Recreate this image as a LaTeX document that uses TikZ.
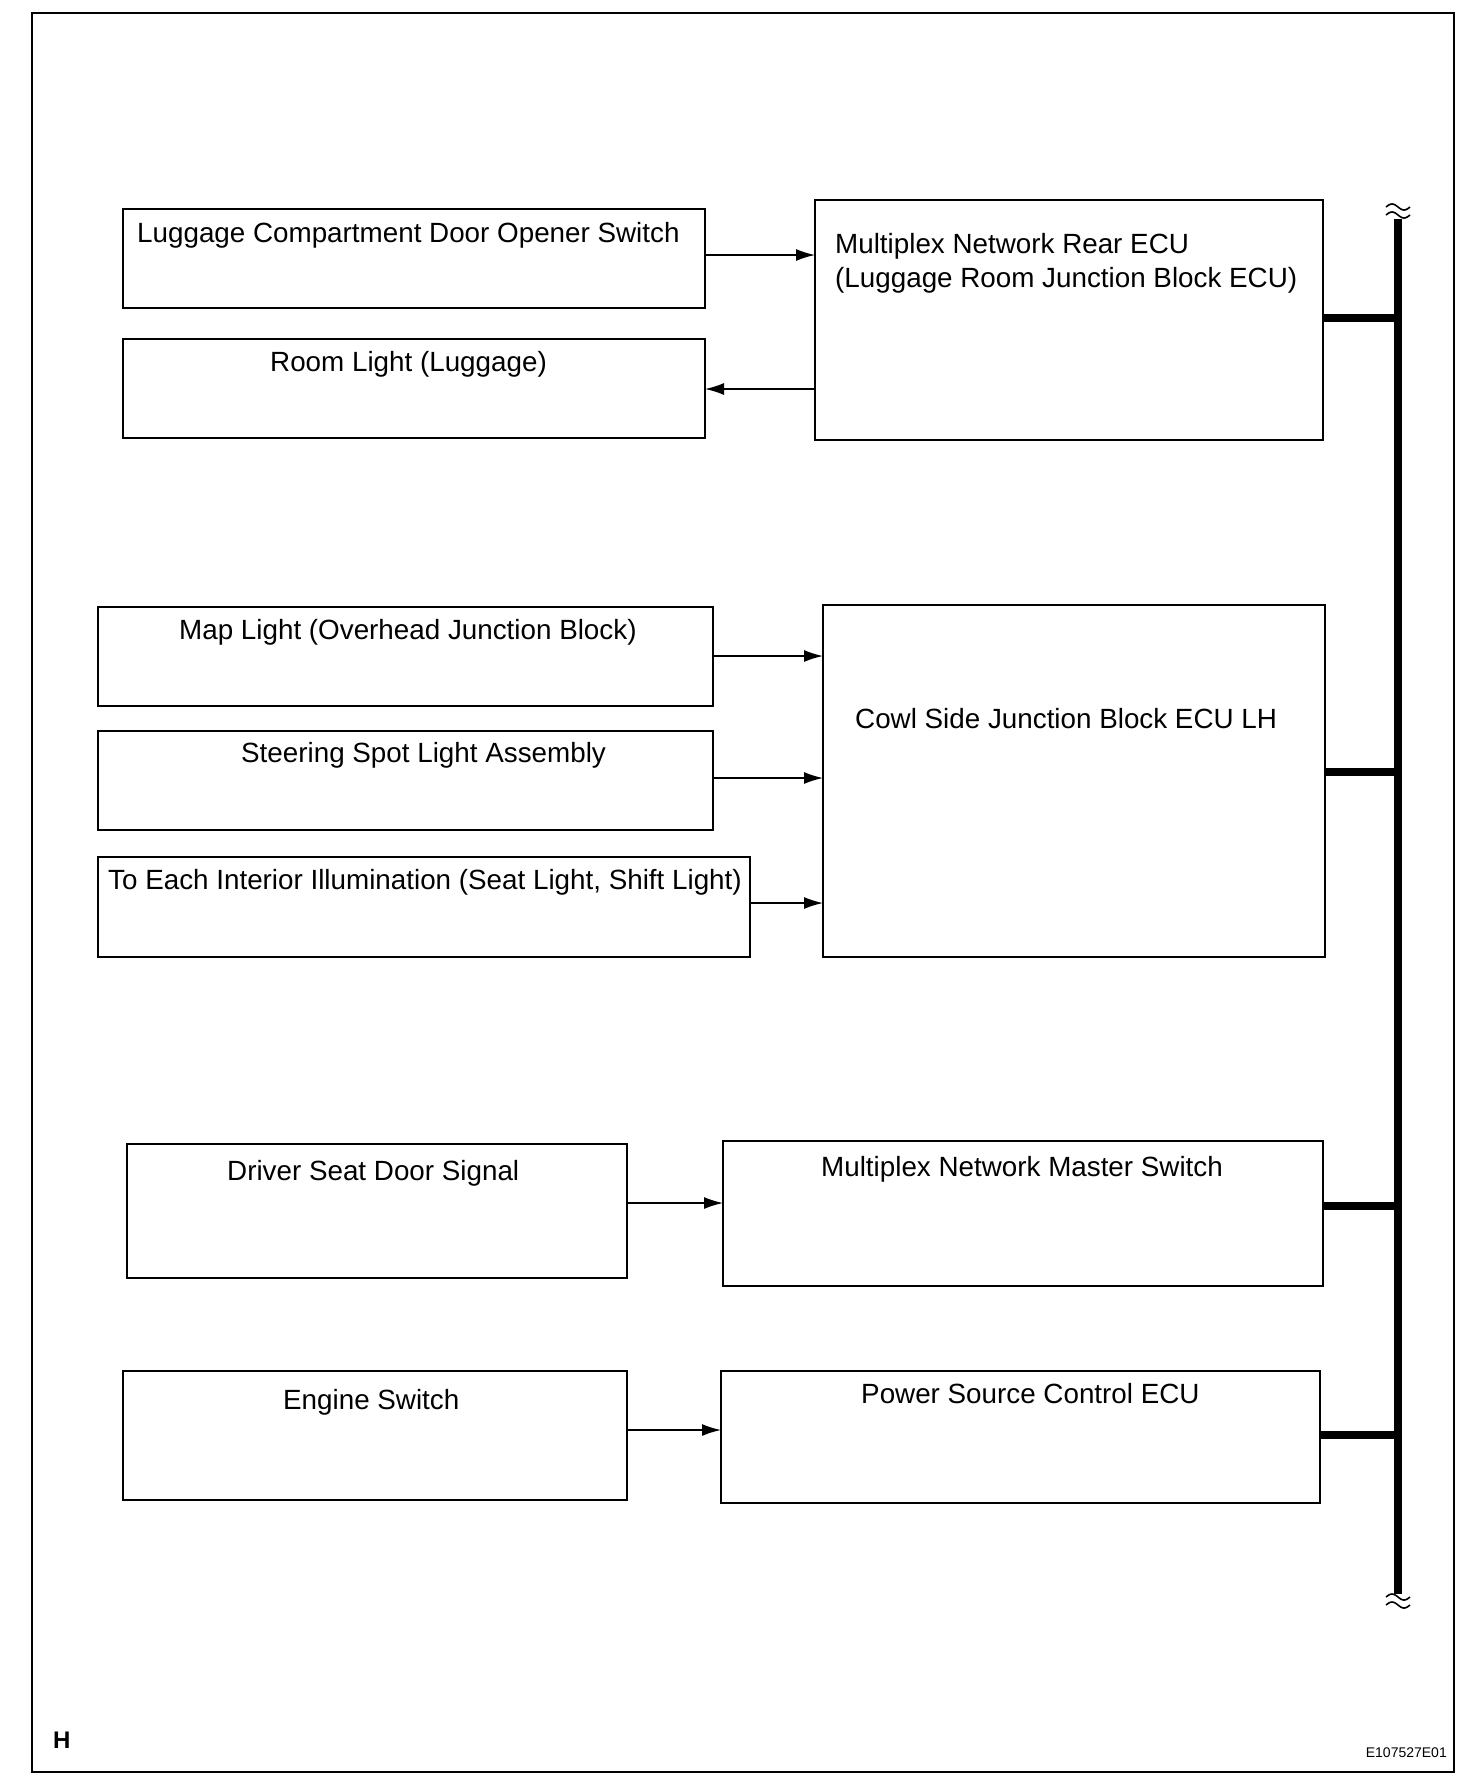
\documentclass[tikz,border=0pt]{standalone}
\usepackage{fontspec}
\setmainfont{Liberation Sans}
\usetikzlibrary{arrows.meta}
\tikzset{
  box/.style={draw, line width=2.3pt, inner sep=0pt, outer sep=0pt, anchor=north west},
  lbl/.style={font=\fontsize{27.8}{33}\selectfont, inner sep=0pt, anchor=base west},
  arr/.style={line width=1.4pt, -{Latex[length=19pt,width=12pt]}},
  busline/.style={line width=8pt},
  wave/.style={line width=1.6pt}
}
\begin{document}
\begin{tikzpicture}[x=1pt,y=-1pt]
\useasboundingbox (0,0) rectangle (1472,1788);
\draw[line width=2.2pt] (32,13) rectangle (1454,1772);

% boxes
\node[box, minimum width=582pt, minimum height=99pt] (b1) at (123,209) {};
\node[box, minimum width=582pt, minimum height=99pt] (b2) at (123,339) {};
\node[box, minimum width=508pt, minimum height=240pt] (rear) at (815,200) {};
\node[box, minimum width=615pt, minimum height=99pt] (map) at (98,607) {};
\node[box, minimum width=615pt, minimum height=99pt] (steer) at (98,731) {};
\node[box, minimum width=652pt, minimum height=100pt] (each) at (98,857) {};
\node[box, minimum width=502pt, minimum height=352pt] (cowl) at (823,605) {};
\node[box, minimum width=500pt, minimum height=134pt] (driver) at (127,1144) {};
\node[box, minimum width=600pt, minimum height=145pt] (master) at (723,1141) {};
\node[box, minimum width=504pt, minimum height=129pt] (engine) at (123,1371) {};
\node[box, minimum width=599pt, minimum height=132pt] (psc) at (721,1371) {};

% texts
\node[lbl] (t1) at (137,242) {Luggage Compartment Door Opener Switch};
\node[lbl] (t2) at (270,371) {Room Light (Luggage)};
\node[lbl] (t3a) at (835,253) {Multiplex Network Rear ECU};
\node[lbl] (t3b) at (835,287) {(Luggage Room Junction Block ECU)};
\node[lbl] (t4) at (179,639) {Map Light (Overhead Junction Block)};
\node[lbl] (t5) at (241,762) {Steering Spot Light Assembly};
\node[lbl] (t6) at (108,889) {To Each Interior Illumination (Seat Light, Shift Light)};
\node[lbl] (t7) at (855,728) {Cowl Side Junction Block ECU LH};
\node[lbl] (t8) at (227,1180) {Driver Seat Door Signal};
\node[lbl] (t9) at (821,1176) {Multiplex Network Master Switch};
\node[lbl] (t10) at (283,1409) {Engine Switch};
\node[lbl] (t11) at (861,1403) {Power Source Control ECU};

\node[font=\bfseries\fontsize{24}{28}\selectfont, anchor=base west, inner sep=0pt] (hl) at (53,1748) {H};
\node[font=\fontsize{14}{16}\selectfont, anchor=base east, inner sep=0pt] (code) at (1447,1757) {E107527E01};

% arrows
\draw[arr] (b1.east |- 0,255) -- (rear.west |- 0,255);
\draw[arr] (rear.west |- 0,389) -- (b2.east |- 0,389);
\draw[arr] (map.east |- 0,656) -- (cowl.west |- 0,656);
\draw[arr] (steer.east |- 0,778) -- (cowl.west |- 0,778);
\draw[arr] (each.east |- 0,903) -- (cowl.west |- 0,903);
\draw[arr] (driver.east |- 0,1203) -- (master.west |- 0,1203);
\draw[arr] (engine.east |- 0,1430) -- (psc.west |- 0,1430);

% bus
\coordinate (bt) at (1398,219);
\coordinate (bb) at (1398,1594);
\draw[busline] (bt) -- (bb);
\draw[busline] (rear.east |- 0,318) -- (bt |- 0,318);
\draw[busline] (cowl.east |- 0,772) -- (bt |- 0,772);
\draw[busline] (master.east |- 0,1206) -- (bt |- 0,1206);
\draw[busline] (psc.east |- 0,1435) -- (bt |- 0,1435);

% break marks
\draw[wave] plot[domain=-12:12, samples=25] ({1398+\x},{207-3*sin(15*(\x+12))});
\draw[wave] plot[domain=-12:12, samples=25] ({1398+\x},{215-3*sin(15*(\x+12))});
\draw[wave] plot[domain=-12:12, samples=25] ({1398+\x},{1597-3*sin(15*(\x+12))});
\draw[wave] plot[domain=-12:12, samples=25] ({1398+\x},{1605-3*sin(15*(\x+12))});
\end{tikzpicture}
\end{document}
